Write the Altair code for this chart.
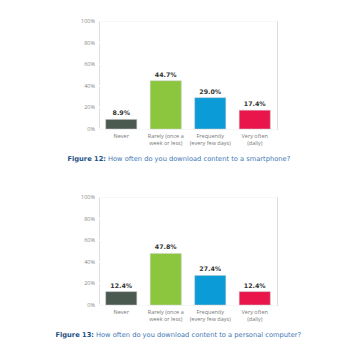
import altair as alt
import pandas as pd

categories = ["Never", "Rarely (once a|week or less)", "Frequently|(every few days)", "Very often|(daily)"]
smartphone = [8.9, 44.7, 29.0, 17.4]
computer = [12.4, 47.8, 27.4, 12.4]
colors = ["#4b5a51", "#8cc63f", "#0b9bd7", "#e8164b"]
ticks = [0, 20, 40, 60, 80, 100]
tick_labels = ["0%", "20%", "40%", "60%", "80%", "100%"]
captions = [
    ("Figure 12:", "How often do you download content to a smartphone?"),
    ("Figure 13:", "How often do you download content to a personal computer?"),
]

W, H = 178, 108


def panel(values, cap, bold_x):
    df = pd.DataFrame({"cat": categories, "val": values,
                       "lbl": [f"{v:.1f}%" for v in values]})
    tdf = pd.DataFrame({"t": ticks, "tl": tick_labels})
    yscale = alt.Scale(domain=[0, 100])
    x = alt.X("cat:N", sort=categories, title=None,
              scale=alt.Scale(paddingInner=0.3, paddingOuter=0.15),
              axis=alt.Axis(labelAngle=0, ticks=False, domain=False, grid=False,
                            labelExpr="split(datum.label, '|')",
                            labelFontSize=5.5, labelColor="#777777",
                            labelFont="Open Sans", labelPadding=4,
                            labelLineHeight=7, labelOverlap=False))
    grid = alt.Chart(tdf).mark_rule(color="#ffffff", strokeWidth=1.5).encode(
        y=alt.Y("t:Q", scale=yscale, axis=None))
    ylab = alt.Chart(tdf).mark_text(align="right", baseline="middle", fontSize=5.5,
                                    color="#888888", font="Open Sans").encode(
        x=alt.value(-4), y=alt.Y("t:Q", scale=yscale, axis=None), text="tl:N")
    bars = alt.Chart(df).mark_bar(stroke="#d0d0d0", strokeWidth=0.5).encode(
        x=x, y=alt.Y("val:Q", scale=yscale, axis=None),
        color=alt.Color("cat:N", sort=categories,
                        scale=alt.Scale(domain=categories, range=colors),
                        legend=None))
    text = alt.Chart(df).mark_text(dy=-3, baseline="bottom", fontSize=6.3,
                                   fontWeight="bold", color="#333333",
                                   font="DejaVu Sans").encode(
        x=alt.X("cat:N", sort=categories), y=alt.Y("val:Q", scale=yscale, axis=None),
        text="lbl:N")
    capdf = pd.DataFrame({"a": [cap[0]], "b": [cap[1]]})
    c1 = alt.Chart(capdf).mark_text(align="right", baseline="middle",
                                    fontSize=6.7, fontWeight="bold",
                                    color="#1d4f86", font="DejaVu Sans").encode(
        x=alt.value(bold_x), y=alt.value(H + 30), text="a:N")
    c2 = alt.Chart(capdf).mark_text(align="left", baseline="middle",
                                    fontSize=6.7, color="#3f78b5",
                                    font="DejaVu Sans").encode(
        x=alt.value(bold_x + 2), y=alt.value(H + 30), text="b:N")
    return alt.layer(grid, ylab, bars, text, c1, c2).properties(width=W, height=H)


chart = alt.vconcat(
    panel(smartphone, captions[0], 7),
    panel(computer, captions[1], -5),
    spacing=30,
).properties(padding={"left": 46, "top": 10, "right": 5, "bottom": 5}).configure_view(
    fill="#e8e8e8", stroke="#c4c4c4", strokeWidth=1
).configure(background="#ffffff")

chart.save("out.html", embed_options={"renderer": "svg", "actions": False})
